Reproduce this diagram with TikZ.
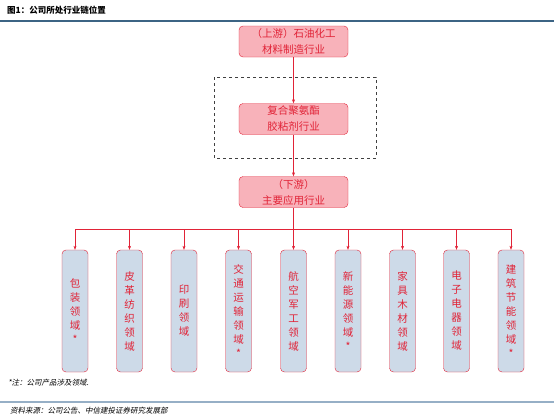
\documentclass[tikz,border=0pt]{standalone}
\usepackage{fontspec}
\setmainfont{Noto Sans CJK SC}
\newfontfamily\noteslant[FakeSlant=0.2]{Noto Sans CJK SC}
\usetikzlibrary{arrows.meta}

\definecolor{chainred}{RGB}{225,35,55}
\definecolor{chainpink}{RGB}{248,178,186}
\definecolor{fieldblue}{RGB}{205,218,232}
\definecolor{titlerule}{RGB}{60,100,132}
\definecolor{footrule}{RGB}{150,175,198}

\tikzset{
  chainbox/.style={draw=chainred, fill=chainpink, rounded corners=4pt,
    minimum width=109pt, minimum height=31pt, inner sep=0pt, align=center,
    text=chainred, font=\fontsize{10.5}{16}\selectfont},
  fieldbox/.style={draw=chainred, fill=fieldblue, rounded corners=4pt,
    minimum width=26pt, minimum height=122pt, inner sep=0pt, align=center,
    text=chainred, font=\fontsize{10.5}{14}\selectfont},
  link/.style={chainred, -{Stealth[length=4pt,width=3pt]}}
}

\begin{document}
\begin{tikzpicture}[x=1pt,y=-1pt]
\useasboundingbox (0,0) rectangle (554,418);
% heading
\node[anchor=west, inner sep=0pt, font=\bfseries\fontsize{8.5}{10}\selectfont] (title) at (7,10) {图1：公司所处行业链位置};
\draw[titlerule, line width=2pt] (0,20.5) -- (554,20.5);
% chain
\draw[black!75, dashed, thick] (214,77) rectangle (376,158);
\node[chainbox] (upstream) at (293.5,41.5) {（上游）石油化工\\材料制造行业};
\node[chainbox] (adhesive) at (293.5,119) {复合聚氨酯\\胶粘剂行业};
\node[chainbox] (downstream) at (293.5,192) {（下游）\\主要应用行业};
\draw[link] (upstream) -- (adhesive);
\draw[link] (adhesive) -- (downstream);
\coordinate (split) at (293.5,229);
\draw[chainred] (downstream) -- (split);
% fields
\foreach \x/\name/\txt in {75/pack/包\\装\\领\\域\\*, 129.5/leather/皮\\革\\纺\\织\\领\\域,
    184/print/印\\刷\\领\\域, 238.5/traffic/交\\通\\运\\输\\领\\域\\*,
    293.5/aero/航\\空\\军\\工\\领\\域, 348/energy/新\\能\\源\\领\\域\\*,
    402.5/furniture/家\\具\\木\\材\\领\\域, 456.5/electric/电\\子\\电\\器\\领\\域,
    511/building/建\\筑\\节\\能\\领\\域\\*}{
  \node[fieldbox] (\name) at (\x,311) {\txt};
  \coordinate (\name-in) at (\x,229);
  \draw[link] (\name-in) -- (\name);
}
\draw[chainred] (pack-in) -- (building-in);
% notes
\node[anchor=west, inner sep=0pt, font=\noteslant\fontsize{7.5}{9}\selectfont] (note) at (8,383) {*注：公司产品涉及领域.};
\draw[footrule, line width=1.5pt] (0,402) -- (554,402);
\node[anchor=west, inner sep=0pt, font=\noteslant\fontsize{7.5}{9}\selectfont] (source) at (10,411) {资料来源：公司公告、中信建投证券研究发展部};
\end{tikzpicture}
\end{document}
